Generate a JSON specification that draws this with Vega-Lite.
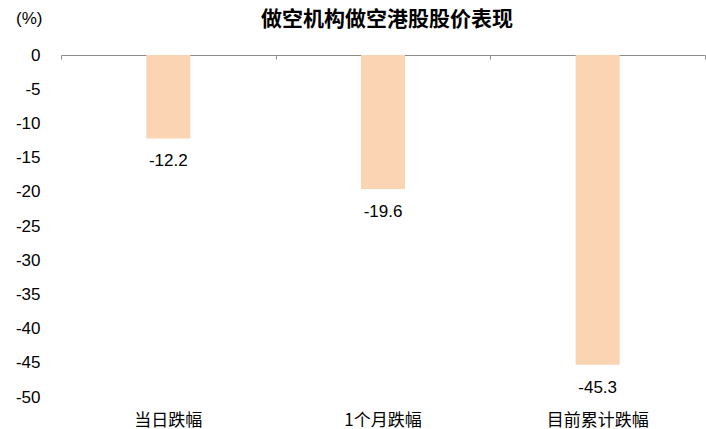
{
  "$schema": "https://vega.github.io/schema/vega-lite/v6.json",
  "description": "做空机构做空港股股价表现",
  "width": 644,
  "height": 342,
  "autosize": {"type": "none"},
  "padding": {"left": 61, "top": 55, "right": 1, "bottom": 32},
  "title": {
    "text": "做空机构做空港股股价表现",
    "font": "Noto Sans CJK SC",
    "fontSize": 21,
    "fontWeight": "bold",
    "color": "#000000",
    "anchor": "middle",
    "baseline": "alphabetic",
    "dx": 4,
    "offset": -38
  },
  "config": {
    "view": {"stroke": null},
    "axis": {"grid": false},
    "locale": {
      "number": {
        "decimal": ".",
        "thousands": ",",
        "grouping": [3],
        "currency": ["", ""],
        "minus": "-"
      }
    }
  },
  "data": {
    "values": [
      {"period": "当日跌幅", "change": -12.2},
      {"period": "1个月跌幅", "change": -19.6},
      {"period": "目前累计跌幅", "change": -45.3}
    ]
  },
  "encoding": {
    "x": {
      "field": "period",
      "type": "nominal",
      "sort": null,
      "scale": {"paddingInner": 0, "paddingOuter": 0}
    },
    "y": {
      "field": "change",
      "type": "quantitative",
      "scale": {"domain": [-50, 0], "nice": false},
      "axis": {
        "values": [-50, -45, -40, -35, -30, -25, -20, -15, -10, -5, 0],
        "domain": false,
        "ticks": false,
        "labelPadding": 21,
        "labelFont": "Liberation Sans",
        "labelFontSize": 17,
        "labelColor": "#000000",
        "title": "(%)",
        "titleAngle": 0,
        "titleX": -19,
        "titleY": -37,
        "titleAlign": "right",
        "titleBaseline": "middle",
        "titleFont": "Liberation Sans",
        "titleFontSize": 17,
        "titleFontWeight": "normal",
        "titleColor": "#000000"
      }
    }
  },
  "layer": [
    {
      "mark": {"type": "bar", "color": "#FBD4B4", "width": {"band": 0.205}},
      "encoding": {
        "x": {
          "field": "period",
          "type": "nominal",
          "sort": null,
          "axis": {
            "orient": "bottom",
            "domain": false,
            "ticks": false,
            "labelAngle": 0,
            "labelPadding": 15,
            "labelFont": "Noto Sans CJK SC",
            "labelFontSize": 17,
            "labelColor": "#000000",
            "title": null
          }
        }
      }
    },
    {
      "mark": {
        "type": "text",
        "baseline": "top",
        "dy": 15,
        "font": "Liberation Sans",
        "fontSize": 17,
        "color": "#000000"
      },
      "encoding": {
        "x": {
          "field": "period",
          "type": "nominal",
          "sort": null,
          "axis": {
            "orient": "top",
            "labels": false,
            "domainColor": "#8C8C8C",
            "tickColor": "#8C8C8C",
            "tickSize": -4,
            "tickBand": "extent",
            "title": null
          }
        },
        "text": {"field": "change", "type": "quantitative", "format": ".1f"}
      }
    }
  ],
  "resolve": {"axis": {"x": "independent"}}
}
